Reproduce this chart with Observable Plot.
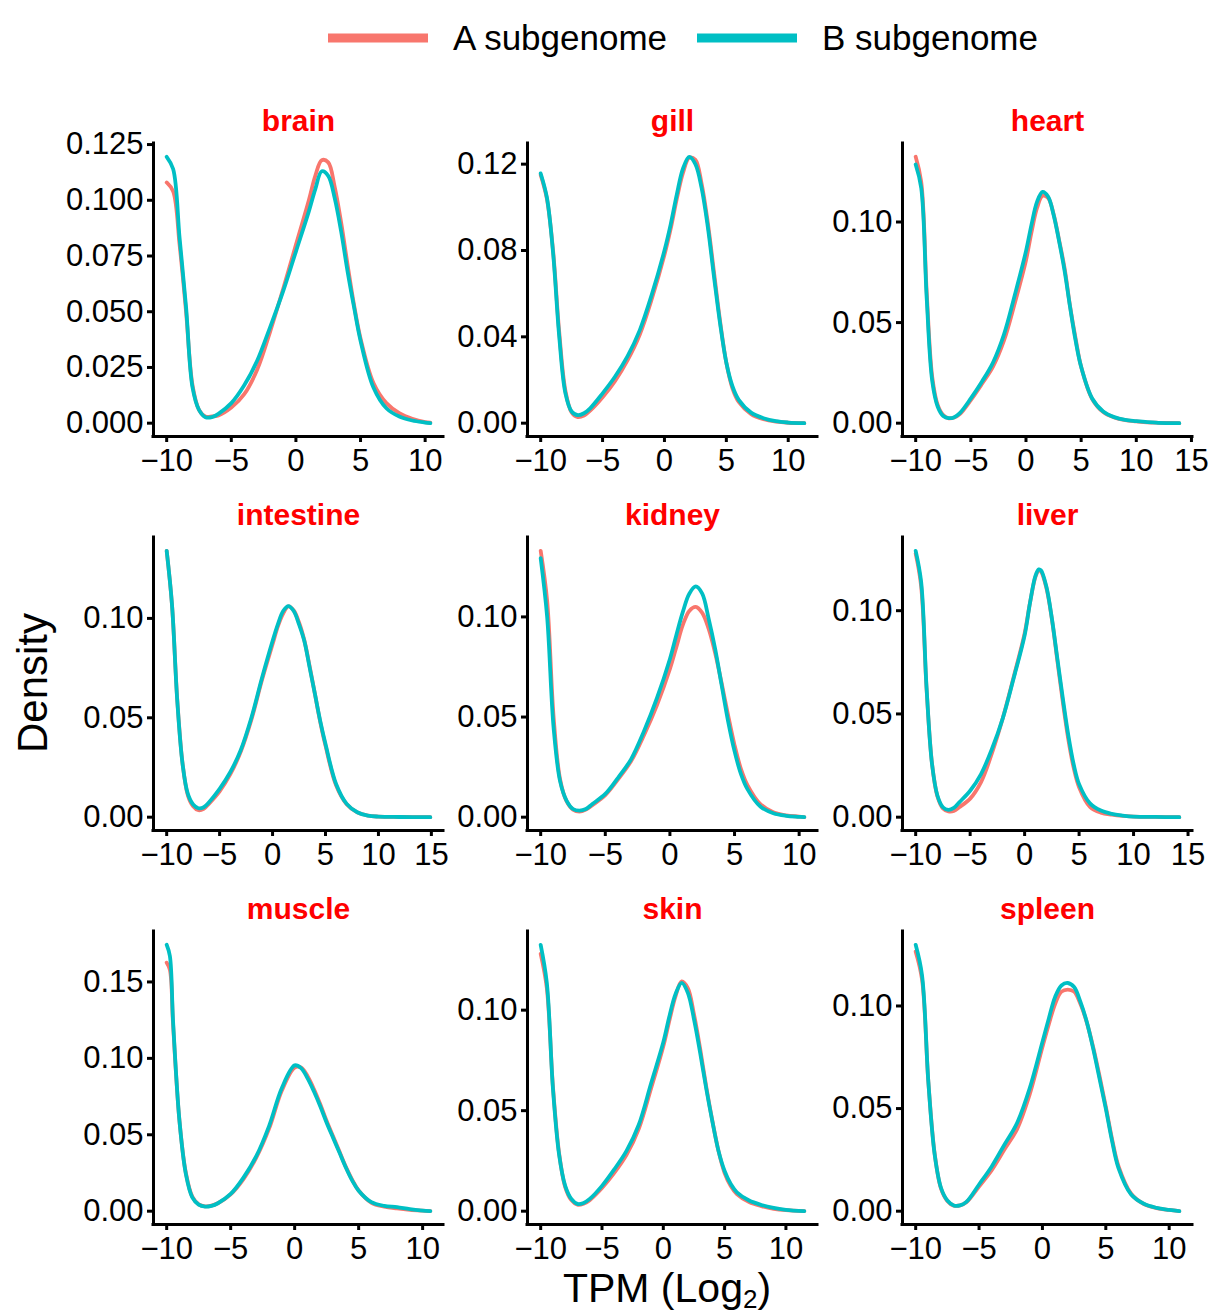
<!DOCTYPE html>
<html><head><meta charset="utf-8">
<script src="https://cdn.jsdelivr.net/npm/d3@7"></script>
<script src="https://cdn.jsdelivr.net/npm/@observablehq/plot@0.6"></script>
<style>
body{margin:0;background:#fff;}
#chart{position:relative;width:1210px;height:1316px;background:#fff;font-family:"Liberation Sans",Arial,Helvetica,sans-serif;color:#000;overflow:hidden;}
.panel{position:absolute;}
.panel svg{overflow:visible;max-width:none;}
.legend-item{position:absolute;top:16px;height:44px;display:flex;align-items:center;}
.legend-item span{margin-left:25px;font-size:35px;white-space:nowrap;}
</style></head><body><div id="chart"></div>
<script>
// ---- data ----
const tissues = ["brain","gill","heart","intestine","kidney","liver","muscle","skin","spleen"];
const seriesNames = ["A subgenome","B subgenome"];
const seriesColors = ["#F8766D","#00BFC4"];

const brainX = [-10,-9.5,-9,-8.5,-8,-7.5,-7,-6.5,-6,-5,-4,-3,-2,-1,0,1,1.5,2,2.5,3,3.5,4,4.5,5,6,7,8,9,10,10.4];
const brainA = [0.108,0.104,0.080,0.050,0.017,0.006,0.003,0.003,0.0035,0.007,0.013,0.024,0.041,0.060,0.080,0.100,0.111,0.118,0.117,0.106,0.090,0.071,0.053,0.038,0.018,0.009,0.0045,0.002,0.0005,0.0002];
const brainB = [0.1195,0.114,0.083,0.052,0.016,0.006,0.0027,0.0027,0.0042,0.009,0.017,0.028,0.043,0.059,0.077,0.095,0.105,0.113,0.111,0.101,0.086,0.068,0.052,0.037,0.016,0.0067,0.003,0.0012,0.0003,0];

const gillX = [-10,-9.5,-9,-8.5,-8,-7.5,-7,-6.5,-6,-5,-4,-3,-2,-1,0,0.5,1,1.5,2,2.5,3,3.5,4,4.5,5,5.5,6,7,8,9,10,11.3];
const gillA = [0.115,0.104,0.080,0.042,0.015,0.005,0.0028,0.0035,0.0058,0.012,0.0195,0.029,0.041,0.058,0.078,0.090,0.104,0.116,0.123,0.122,0.111,0.093,0.070,0.047,0.028,0.016,0.0098,0.0042,0.0018,0.0007,0.0002,0];
const gillB = [0.1157,0.1046,0.079,0.040,0.0138,0.0054,0.0037,0.0046,0.0069,0.0138,0.0215,0.0308,0.043,0.060,0.080,0.092,0.106,0.118,0.1234,0.120,0.109,0.091,0.068,0.046,0.028,0.017,0.0108,0.0049,0.0023,0.0009,0.0003,0];

const heartX = [-10,-9.5,-9,-8.5,-8,-7.5,-7,-6.5,-6,-5,-4,-3,-2,-1,0,0.5,1,1.5,2,2.5,3,3.5,4,4.5,5,6,7,8,9,10,11,12,13.9];
const heartA = [0.1324,0.120,0.065,0.023,0.009,0.004,0.0024,0.0028,0.0045,0.0115,0.0195,0.028,0.041,0.060,0.081,0.095,0.107,0.113,0.112,0.104,0.091,0.077,0.058,0.042,0.028,0.012,0.0055,0.0028,0.0015,0.0009,0.0004,0.0002,0];
const heartB = [0.1286,0.117,0.062,0.021,0.0082,0.0036,0.0025,0.003,0.005,0.0123,0.0206,0.030,0.044,0.064,0.0855,0.0987,0.110,0.115,0.1127,0.1036,0.0905,0.0757,0.0576,0.041,0.028,0.0123,0.0058,0.003,0.0016,0.001,0.0005,0.0002,0];

const intestineX = [-10,-9.5,-9,-8.5,-8,-7.5,-7,-6.5,-6,-5,-4,-3,-2,-1,0,0.5,1,1.5,2,2.5,3,3.5,4,4.5,5,6,7,8,9,10,12,14.9];
const intestineA = [0.134,0.107,0.059,0.027,0.011,0.0055,0.0035,0.0042,0.0068,0.013,0.0215,0.033,0.049,0.069,0.087,0.096,0.1025,0.106,0.104,0.098,0.089,0.076,0.062,0.048,0.036,0.016,0.0065,0.0024,0.0008,0.0003,0.0001,0];
const intestineB = [0.134,0.107,0.0585,0.0268,0.0117,0.0064,0.0045,0.005,0.0075,0.0142,0.0226,0.0338,0.050,0.070,0.0886,0.097,0.1037,0.1062,0.1037,0.097,0.0886,0.0753,0.062,0.0485,0.0368,0.0167,0.0067,0.0025,0.0008,0.0003,0.0001,0];

const kidneyX = [-10,-9.5,-9,-8.5,-8,-7.5,-7,-6.5,-6,-5,-4,-3,-2,-1,0,0.5,1,1.5,2,2.5,3,3.5,4,4.5,5,5.5,6,7,8,9,10,10.4];
const kidneyA = [0.133,0.108,0.050,0.019,0.008,0.0038,0.0028,0.0038,0.006,0.011,0.019,0.028,0.041,0.056,0.074,0.085,0.096,0.103,0.105,0.102,0.094,0.082,0.067,0.051,0.036,0.024,0.016,0.0065,0.0025,0.0009,0.0003,0];
const kidneyB = [0.1293,0.100,0.0446,0.018,0.0083,0.0041,0.0033,0.0041,0.0066,0.0116,0.0198,0.029,0.043,0.0595,0.079,0.091,0.1025,0.1116,0.1152,0.1116,0.099,0.084,0.066,0.048,0.033,0.0215,0.014,0.0053,0.002,0.0007,0.0002,0];

const liverX = [-10,-9.5,-9,-8.5,-8,-7.5,-7,-6.5,-6,-5,-4,-3,-2,-1,0,0.5,1,1.3,1.5,2,2.5,3,3.5,4,4.5,5,6,7,8,9,10,12,14.2];
const liverA = [0.1276,0.112,0.062,0.026,0.010,0.0042,0.0028,0.003,0.0048,0.009,0.017,0.031,0.048,0.068,0.089,0.104,0.1165,0.1195,0.119,0.111,0.096,0.076,0.056,0.038,0.024,0.0145,0.005,0.0022,0.0012,0.0006,0.0003,0.0001,0];
const liverB = [0.129,0.114,0.0626,0.0257,0.0104,0.0048,0.0035,0.0045,0.0072,0.0128,0.0209,0.033,0.048,0.0674,0.088,0.104,0.117,0.120,0.1196,0.1116,0.0963,0.077,0.0578,0.040,0.0257,0.016,0.0067,0.0032,0.0016,0.0008,0.0003,0.0001,0];

const muscleX = [-10,-9.75,-9.5,-9,-8.5,-8,-7.5,-7,-6.5,-6,-5,-4,-3,-2,-1,0,0.5,1,1.5,2,2.5,3,3.5,4,4.5,5,6,7,8,9,10,10.6];
const muscleA = [0.1626,0.158,0.122,0.059,0.025,0.0095,0.0045,0.0032,0.0036,0.0052,0.011,0.021,0.035,0.054,0.079,0.094,0.094,0.0885,0.080,0.070,0.059,0.049,0.039,0.029,0.0205,0.0135,0.0055,0.003,0.0018,0.0009,0.0003,0];
const muscleB = [0.1743,0.167,0.124,0.059,0.0243,0.0091,0.0043,0.003,0.0035,0.0052,0.0113,0.022,0.036,0.0557,0.0806,0.0954,0.0936,0.0871,0.0785,0.0687,0.0579,0.0481,0.0384,0.0286,0.020,0.0134,0.0059,0.0035,0.0026,0.0013,0.0004,0];

const skinX = [-10,-9.5,-9,-8.5,-8,-7.5,-7,-6.5,-6,-5,-4,-3,-2,-1,0,0.5,1,1.5,2,2.5,3,3.5,4,4.5,5,5.5,6,7,8,9,10,11.5];
const skinA = [0.128,0.111,0.062,0.029,0.012,0.0055,0.0032,0.0037,0.0055,0.0115,0.019,0.028,0.041,0.061,0.082,0.095,0.107,0.1143,0.111,0.098,0.081,0.062,0.045,0.030,0.019,0.0125,0.0085,0.0045,0.0025,0.0012,0.0005,0];
const skinB = [0.1325,0.1136,0.061,0.0282,0.0126,0.0061,0.0036,0.0041,0.0061,0.0126,0.0208,0.030,0.043,0.0635,0.084,0.097,0.108,0.1136,0.1087,0.0956,0.079,0.061,0.0447,0.030,0.020,0.0135,0.0094,0.0053,0.0031,0.0016,0.0007,0];

const spleenX = [-10,-9.5,-9,-8.5,-8,-7.5,-7,-6.5,-6,-5,-4,-3,-2,-1,0,0.5,1,1.5,2,2.5,3,3.5,4,4.5,5,5.5,6,7,8,9,10,10.8];
const spleenA = [0.1265,0.113,0.063,0.028,0.011,0.005,0.0027,0.0028,0.0043,0.012,0.020,0.030,0.040,0.057,0.080,0.091,0.101,0.107,0.108,0.107,0.101,0.092,0.080,0.066,0.051,0.035,0.022,0.0085,0.0035,0.0015,0.0006,0];
const spleenB = [0.1298,0.115,0.063,0.0275,0.0113,0.0052,0.0028,0.0028,0.0045,0.013,0.0218,0.0324,0.043,0.060,0.0825,0.0938,0.1044,0.110,0.1112,0.1092,0.102,0.0922,0.0793,0.0647,0.050,0.034,0.021,0.0081,0.0036,0.0016,0.0006,0];

// tick labels
const xTicks10 = [-10,-5,0,5,10];
const xTicks15 = [-10,-5,0,5,10,15];
const yTicksBrain = [0,0.025,0.05,0.075,0.1,0.125];
const yTicksGill = [0,0.04,0.08,0.12];
const yTicksStd = [0,0.05,0.1];
const yTicksMuscle = [0,0.05,0.1,0.15];

const panels = [
  {t:"brain", X:brainX, A:brainA, B:brainB, xt:xTicks10, yt:yTicksBrain, fmt:".3f"},
  {t:"gill", X:gillX, A:gillA, B:gillB, xt:xTicks10, yt:yTicksGill, fmt:".2f"},
  {t:"heart", X:heartX, A:heartA, B:heartB, xt:xTicks15, yt:yTicksStd, fmt:".2f"},
  {t:"intestine", X:intestineX, A:intestineA, B:intestineB, xt:xTicks15, yt:yTicksStd, fmt:".2f"},
  {t:"kidney", X:kidneyX, A:kidneyA, B:kidneyB, xt:xTicks10, yt:yTicksStd, fmt:".2f"},
  {t:"liver", X:liverX, A:liverA, B:liverB, xt:xTicks15, yt:yTicksStd, fmt:".2f"},
  {t:"muscle", X:muscleX, A:muscleA, B:muscleB, xt:xTicks10, yt:yTicksMuscle, fmt:".2f"},
  {t:"skin", X:skinX, A:skinA, B:skinB, xt:xTicks10, yt:yTicksStd, fmt:".2f"},
  {t:"spleen", X:spleenX, A:spleenA, B:spleenB, xt:xTicks10, yt:yTicksStd, fmt:".2f"}
];

// ---- layout ----
const chart = document.getElementById("chart");
const colLeft = [153, 527, 902];
const rowTop = [143, 537, 931];
const frameW = 290, frameH = 293;
const mL = 100, mR = 30, mT = 50, mB = 55;
const FONT = '"Liberation Sans", Arial, Helvetica, sans-serif';

function expand(lo, hi) { const r = hi - lo; return [lo - 0.05 * r, hi + 0.05 * r]; }

panels.forEach((p, i) => {
  const col = i % 3, row = Math.floor(i / 3);
  const rows = [];
  p.X.forEach((x, j) => rows.push({series: seriesNames[0], x, y: p.A[j]}));
  p.X.forEach((x, j) => rows.push({series: seriesNames[1], x, y: p.B[j]}));
  const xDom = expand(d3.min(p.X), d3.max(p.X));
  const yDom = expand(d3.min(rows, d => d.y), d3.max(rows, d => d.y));
  const svg = Plot.plot({
    width: mL + frameW + mR, height: mT + frameH + mB,
    marginLeft: mL, marginRight: mR, marginTop: mT, marginBottom: mB,
    style: {background: "transparent", fontFamily: FONT, fontSize: "31px", color: "#000", overflow: "visible"},
    x: {domain: xDom, label: null},
    y: {domain: yDom, label: null},
    color: {domain: seriesNames, range: seriesColors},
    marks: [
      Plot.line(rows, {x: "x", y: "y", z: "series", stroke: "series", strokeWidth: 3.8, curve: "catmull-rom"}),
      Plot.ruleX([xDom[0]], {stroke: "#000", strokeWidth: 3, strokeLinecap: "square"}),
      Plot.ruleY([yDom[0]], {stroke: "#000", strokeWidth: 3, strokeLinecap: "square"}),
      Plot.axisX(p.xt, {tickSize: 6, tickPadding: 6, strokeWidth: 3, fontSize: 31, tickFormat: d3.format("d"), label: null}),
      Plot.axisY(p.yt, {tickSize: 6, tickPadding: 4, strokeWidth: 3, fontSize: 31, tickFormat: d3.format(p.fmt), label: null}),
      Plot.text([p.t], {frameAnchor: "top", dy: -34, text: d => d, fill: "#FF0000", fontWeight: "bold", fontSize: 30})
    ]
  });
  const div = document.createElement("div");
  div.className = "panel";
  div.style.left = (colLeft[col] - mL) + "px";
  div.style.top = (rowTop[row] - mT) + "px";
  div.appendChild(svg);
  chart.appendChild(div);
});

// legend
const legendLeft = [328, 697];
seriesNames.forEach((name, i) => {
  const item = document.createElement("div");
  item.className = "legend-item";
  item.style.left = legendLeft[i] + "px";
  item.innerHTML = `<svg width="100" height="12"><line x1="0" x2="100" y1="6" y2="6" stroke="${seriesColors[i]}" stroke-width="9"/></svg><span>${name}</span>`;
  chart.appendChild(item);
});

// axis titles
const yTitle = document.createElement("div");
yTitle.textContent = "Density";
Object.assign(yTitle.style, {position: "absolute", left: "33px", top: "683px", transform: "translate(-50%,-50%) rotate(-90deg)", fontSize: "42px", whiteSpace: "nowrap"});
chart.appendChild(yTitle);

const xTitle = document.createElement("div");
xTitle.innerHTML = 'TPM (Log<span style="font-size:26px;position:relative;top:6px">2</span>)';
Object.assign(xTitle.style, {position: "absolute", left: "667px", top: "1268px", transform: "translateX(-50%)", fontSize: "41px", lineHeight: "41px", whiteSpace: "nowrap"});
chart.appendChild(xTitle);
</script>
</body></html>
